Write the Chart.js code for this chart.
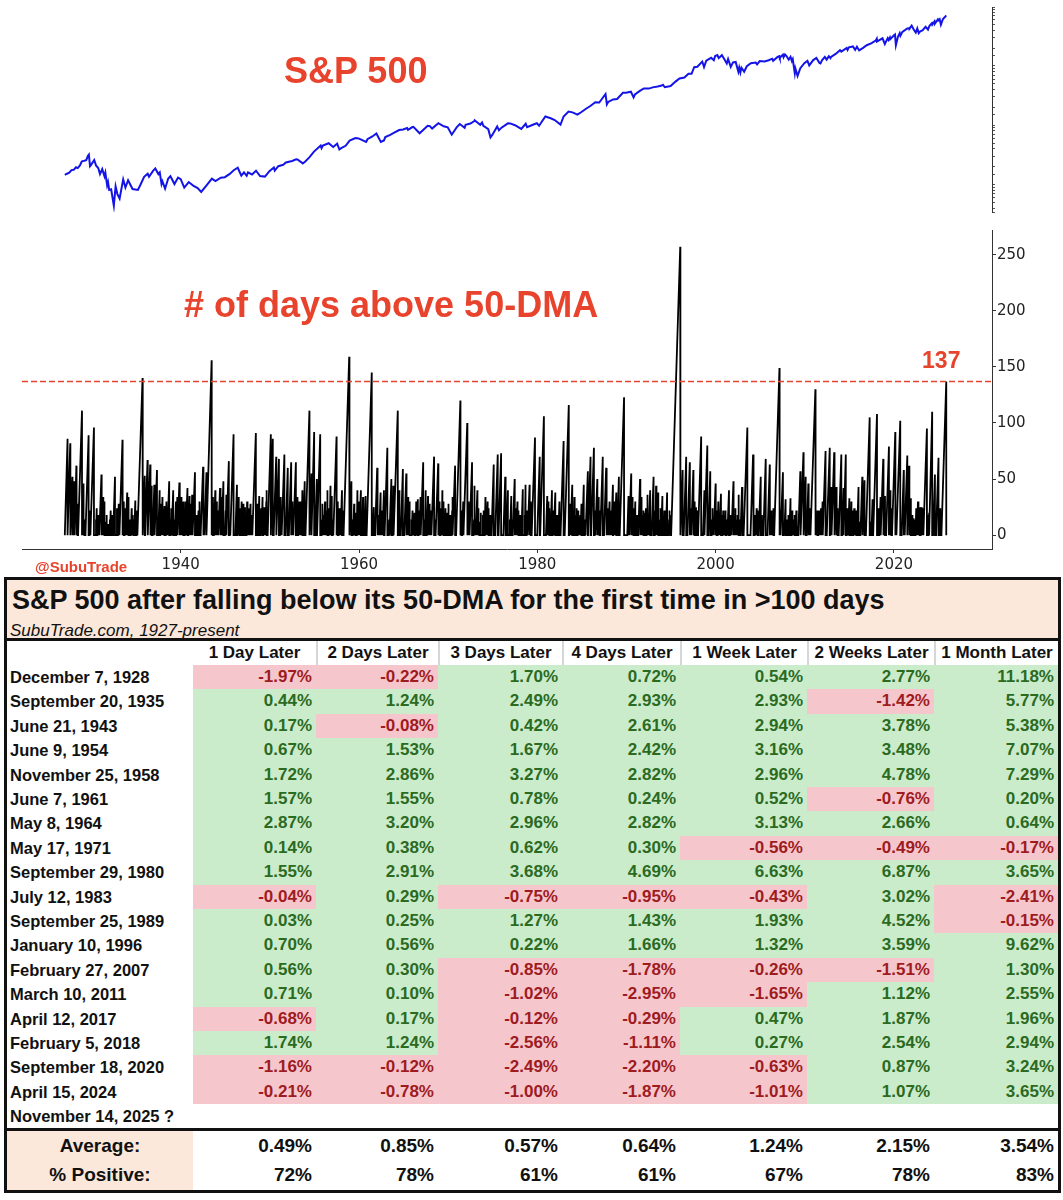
<!DOCTYPE html>
<html><head><meta charset="utf-8">
<script src="https://cdn.jsdelivr.net/npm/chart.js@4.4.1/dist/chart.umd.min.js"></script>
<style>
html,body{margin:0;padding:0;background:#fff;width:1063px;height:1200px;overflow:hidden;font-family:"Liberation Sans",Arial,Helvetica,sans-serif;}
#c1{position:absolute;left:0;top:0;}
#c2{position:absolute;left:0;top:220px;}
.lbl{position:absolute;color:#e8432c;font-weight:bold;white-space:nowrap;line-height:1;}
#tbl{position:absolute;left:4px;top:577px;width:1051px;height:610px;border:3px solid #111;background:#fff;}
#tbl div{position:absolute;white-space:nowrap;box-sizing:border-box;}
</style></head>
<body>
<canvas id="c1" width="1063" height="220" style="width:1063px;height:220px"></canvas>
<canvas id="c2" width="1063" height="358" style="width:1063px;height:358px"></canvas>
<div class="lbl" style="left:284px;top:53px;font-size:36px;">S&amp;P 500</div>
<div class="lbl" style="left:184px;top:287px;font-size:36px;"># of days above 50-DMA</div>
<div class="lbl" style="left:35px;top:559px;font-size:15px;">@SubuTrade</div>
<div id="tbl"></div>
<script>
// ---------------- DATA ----------------
const xTickYears = [1940, 1960, 1980, 2000, 2020];
const latestCount = 137;

// S&P 500 level (year, index)
const spxHistory = [
[1927.0,14.5],[1927.25,15.2],[1927.5,15.8],[1927.75,17.5],[1928.0,17.7],[1928.25,19.5],[1928.45,18.9],[1928.7,21.0],[1928.9,24.4],[1929.0,24.8],
[1929.2,25.2],[1929.4,25.8],[1929.6,30.5],[1929.7,31.9],[1929.83,20.4],[1929.95,21.5],[1930.3,25.9],[1930.5,21.0],[1930.75,19.0],[1930.95,15.0],
[1931.2,18.2],[1931.45,13.8],[1931.55,15.8],[1931.75,9.7],[1931.85,11.0],[1931.98,8.1],[1932.2,8.3],[1932.5,4.4],[1932.7,9.3],[1932.9,6.9],
[1933.15,5.8],[1933.55,12.2],[1933.8,8.9],[1934.1,11.8],[1934.6,8.4],[1935.2,8.1],[1935.5,10.0],[1935.9,13.5],[1936.3,15.2],[1936.45,13.5],
[1936.9,17.0],[1937.15,18.7],[1937.5,15.0],[1937.65,16.0],[1937.85,10.2],[1937.95,11.3],[1938.25,8.5],[1938.6,12.6],[1938.85,13.8],[1939.3,10.2],
[1939.7,13.1],[1940.0,12.3],[1940.4,8.9],[1940.9,11.0],[1941.4,9.6],[1941.9,8.7],[1942.3,7.5],[1942.9,9.7],[1943.5,12.6],[1943.9,11.4],
[1944.5,13.0],[1944.95,13.3],[1945.5,15.1],[1945.95,17.4],[1946.4,19.2],[1946.8,14.1],[1947.1,16.0],[1947.4,14.0],[1947.55,16.0],[1948.0,14.8],
[1948.45,17.1],[1948.9,13.9],[1949.45,13.6],[1949.95,16.8],[1950.45,19.4],[1950.55,17.2],[1950.95,20.4],[1951.5,21.5],[1951.8,23.5],[1952.5,25.0],
[1952.95,26.6],[1953.1,26.5],[1953.7,22.7],[1954.0,24.8],[1954.45,29.0],[1954.95,35.9],[1955.7,45.6],[1955.8,41.0],[1955.95,45.5],[1956.6,49.7],
[1957.1,43.0],[1957.55,49.0],[1957.8,39.0],[1958.0,41.0],[1958.5,45.0],[1958.95,55.2],[1959.6,60.7],[1959.95,59.9],[1960.8,52.3],[1960.95,58.1],
[1961.5,64.6],[1961.95,72.6],[1962.45,52.3],[1962.8,55.5],[1962.95,63.1],[1963.5,69.0],[1963.95,75.0],[1964.5,83.0],[1964.95,84.7],[1965.4,90.0],
[1965.5,84.0],[1965.95,92.4],[1966.1,94.0],[1966.8,73.2],[1967.7,97.6],[1967.95,96.5],[1968.2,87.7],[1968.9,108.4],[1969.5,96.0],[1969.95,92.1],
[1970.4,69.3],[1970.95,92.2],[1971.3,104.8],[1971.85,90.2],[1971.95,102.1],[1972.5,107.0],[1972.95,118.1],[1973.0,120.2],[1973.6,102.0],[1973.8,111.0],
[1973.95,97.6],[1974.5,86.0],[1974.75,62.3],[1974.95,68.6],[1975.5,95.2],[1975.7,82.1],[1975.95,90.2],[1976.7,107.8],[1976.95,107.5],[1977.5,100.0],
[1978.2,86.9],[1978.7,106.0],[1978.85,92.5],[1979.5,102.0],[1979.95,107.9],[1980.2,98.2],[1980.9,140.5],[1981.5,131.0],[1981.95,122.6],[1982.6,102.4],
[1982.95,140.6],[1983.5,170.0],[1983.95,164.9],[1984.5,150.7],[1984.95,167.2],[1985.5,191.9],[1985.95,211.3],[1986.5,245.0],[1986.95,242.2],[1987.65,336.8],
[1987.8,224.8],[1987.95,247.1],[1988.5,272.0],[1988.95,277.7],[1989.6,353.7],[1989.95,353.4],[1990.5,368.0],[1990.8,295.5],[1990.95,330.2],[1991.5,380.0],
[1991.95,417.1],[1992.5,415.0],[1992.95,435.7],[1993.5,450.0],[1993.95,466.5],[1994.1,482.0],[1994.3,438.0],[1994.95,459.3],[1995.5,545.0],[1995.95,615.9],
[1996.5,640.0],[1996.95,740.7],[1997.3,737.0],[1997.6,954.0],[1997.95,970.4],[1998.5,1186.8],[1998.7,957.3],[1998.95,1229.2],[1999.5,1372.7],[1999.8,1247.4],
[1999.95,1469.3],[2000.2,1527.5],[2000.35,1356.0],[2000.7,1520.8],[2000.95,1320.3],[2001.25,1103.3],[2001.4,1312.8],[2001.7,965.8],[2001.95,1148.1],[2002.25,1172.0],
[2002.55,797.7],[2002.65,937.4],[2002.78,776.8],[2002.9,936.3],[2003.2,800.7],[2003.5,987.8],[2003.95,1111.9],[2004.5,1140.8],[2004.65,1063.2],[2004.95,1211.9],
[2005.5,1191.3],[2005.95,1248.3],[2006.35,1325.8],[2006.45,1223.7],[2006.95,1418.3],[2007.15,1459.7],[2007.2,1374.1],[2007.55,1553.1],[2007.62,1406.7],[2007.78,1565.2],
[2007.95,1468.4],[2008.2,1276.6],[2008.4,1426.6],[2008.55,1214.9],[2008.65,1305.0],[2008.88,752.4],[2008.95,903.3],[2009.05,805.2],[2009.19,676.5],[2009.5,919.3],
[2009.95,1115.1],[2010.3,1217.3],[2010.5,1022.6],[2010.95,1257.6],[2011.3,1363.6],[2011.65,1119.5],[2011.76,1099.2],[2011.95,1257.6],[2012.25,1419.0],[2012.45,1278.0],
[2012.7,1465.0],[2012.88,1353.0],[2012.95,1426.2],[2013.5,1614.0],[2013.95,1848.4],[2014.1,1741.9],[2014.7,2011.0],[2014.8,1862.0],[2014.95,2058.9],[2015.4,2130.8],
[2015.65,1867.6],[2015.85,2109.0],[2016.1,1829.1],[2016.5,2000.5],[2016.95,2238.8],[2017.5,2420.0],[2017.95,2673.6],[2018.07,2872.9],[2018.1,2581.0],[2018.72,2930.8],
[2018.98,2351.1],[2019.3,2945.8],[2019.4,2744.5],[2019.55,3025.9],[2019.6,2840.6],[2019.95,3230.8],[2020.12,3386.2],[2020.22,2237.4],[2020.45,3100.0],[2020.65,3580.8],
[2020.73,3236.9],[2020.95,3756.1],[2021.5,4297.5],[2021.7,4307.5],[2021.76,4300.5],[2021.99,4796.6],[2022.2,4170.7],[2022.45,3666.8],[2022.62,4305.2],[2022.78,3577.0],
[2022.95,3839.5],[2023.2,3970.0],[2023.55,4588.9],[2023.82,4117.4],[2023.99,4769.8],[2024.25,5254.4],[2024.3,4967.2],[2024.55,5667.2],[2024.6,5186.3],[2024.93,6090.3],
[2024.99,5881.6],[2025.13,6144.2],[2025.27,4982.8],[2025.5,6205.0],[2025.8,6890.9],[2025.87,6734.0]
];

// Peaks of the "# of days above 50-DMA" counter (year the run ended, days) – the visible spikes
const majorSpikes = [
[1927.31,86],[1927.61,82],[1928.07,48],[1928.30,62],[1928.93,111],[1929.06,46],[1929.67,89],[1930.27,96],[1930.73,18],[1931.11,54],
[1931.87,10],[1932.63,52],[1933.47,85],[1934.0,38],[1934.91,31],[1935.72,140],[1935.97,53],[1936.28,67],[1936.58,63],[1937.04,45],
[1937.34,58],[1937.64,40],[1938.18,26],[1938.71,48],[1939.16,40],[1939.47,30],[1939.85,47],[1940.30,30],[1940.76,42],[1940.99,35],
[1941.60,56],[1941.90,15],[1942.51,61],[1942.89,56],[1943.47,156],[1943.88,40],[1944.41,42],[1944.79,48],[1945.40,66],[1945.93,90],
[1946.31,45],[1946.84,30],[1947.22,25],[1947.83,28],[1948.43,91],[1948.81,35],[1949.35,25],[1950.11,90],[1950.33,86],[1950.71,70],
[1951.02,68],[1951.63,72],[1952.01,60],[1952.39,65],[1952.92,65],[1953.30,30],[1953.91,48],[1954.44,111],[1954.67,55],[1954.97,92],
[1955.27,50],[1955.65,90],[1956.19,30],[1956.95,35],[1957.48,88],[1958.09,40],[1958.90,159],[1959.15,48],[1959.60,20],[1960.21,40],
[1960.74,35],[1961.43,145],[1961.66,25],[1962.04,60],[1962.42,38],[1962.80,40],[1963.18,78],[1963.63,50],[1964.35,111],[1964.54,40],
[1964.92,59],[1965.30,55],[1965.68,30],[1966.22,20],[1966.60,32],[1967.20,65],[1967.74,35],[1968.42,70],[1968.88,64],[1969.48,30],
[1969.86,20],[1970.78,62],[1971.37,120],[1971.69,30],[1972.14,100],[1972.68,65],[1973.28,40],[1973.66,20],[1974.42,30],[1975.11,63],
[1975.56,72],[1975.94,73],[1976.40,52],[1976.70,40],[1977.08,35],[1977.46,50],[1977.77,30],[1978.37,41],[1979.13,45],[1979.74,87],
[1980.27,70],[1980.74,106],[1981.11,35],[1981.64,40],[1982.02,38],[1982.48,30],[1982.95,84],[1983.53,116],[1983.92,45],[1984.68,15],
[1985.21,45],[1985.67,57],[1985.97,70],[1986.35,78],[1986.73,50],[1987.34,70],[1987.72,60],[1988.10,30],[1988.48,45],[1988.86,38],
[1989.15,52],[1989.73,123],[1990.23,35],[1990.53,55],[1990.99,30],[1991.52,50],[1992.05,20],[1992.66,40],[1993.04,52],[1993.57,38],
[1994.03,35],[1994.56,38],[1996.03,257],[1996.30,58],[1996.70,70],[1997.10,65],[1997.50,58],[1997.80,25],[1998.38,88],[1998.74,40],
[1999.07,80],[1999.40,57],[2000.0,46],[2000.6,37],[2001.5,40],[2002.0,48],[2002.96,43],[2003.56,96],[2004.2,72],[2005.06,52],
[2005.62,68],[2006.07,63],[2007.16,149],[2007.55,56],[2007.85,32],[2008.4,33],[2009.5,57],[2009.85,74],[2010.1,52],[2010.4,46],
[2011.19,130],[2011.6,22],[2012.0,30],[2012.33,75],[2012.8,78],[2013.0,43],[2013.3,74],[2013.55,43],[2014.1,72],[2014.35,42],
[2014.6,72],[2015.0,33],[2015.4,22],[2016.03,43],[2016.45,52],[2016.7,49],[2017.28,105],[2017.6,32],[2018.10,108],[2018.5,34],
[2018.8,68],[2019.0,35],[2019.44,79],[2019.6,40],[2020.15,92],[2020.71,102],[2021.1,58],[2021.5,71],[2021.7,62],[2021.9,33],
[2022.2,15],[2022.7,30],[2022.9,25],[2023.1,25],[2023.7,95],[2023.95,20],[2024.29,110],[2024.6,54],[2025.0,69],[2025.2,24],
[2025.87,137]
];

// Short runs that make the dense band near zero
const minorSpikes = [
[1927.02,20],[1927.10,34],[1927.68,24],[1927.75,40],[1927.85,52],[1927.93,16],[1928.45,28],[1928.52,44],[1928.58,18],
[1929.12,36],[1929.2,14],[1929.85,22],[1929.92,12],[1929.98,26],[1930.35,18],[1930.42,38],[1930.5,14],[1930.58,24],[1930.65,44],[1930.85,18],[1930.92,10],
[1931.2,22],[1931.3,34],[1931.4,14],[1931.5,30],[1931.6,12],[1931.7,18],[1931.95,26],[1932.05,14],[1932.15,22],[1932.25,12],[1932.35,18],[1932.42,10],
[1932.75,36],[1932.85,24],[1932.95,14],[1933.05,28],[1933.12,12],[1933.55,18],[1933.62,30],[1933.7,14],[1933.78,24],[1933.86,12],
[1934.1,22],[1934.2,34],[1934.3,14],[1934.4,12],[1934.5,24],[1934.6,18],[1934.7,14],[1934.78,30],[1935.05,14],[1935.12,22],[1935.2,12],
[1936.65,30],[1936.72,18],[1936.78,44],[1937.1,22],[1937.45,36],[1937.52,14],[1937.72,18],[1937.8,28],[1937.88,12],[1937.95,34],
[1938.02,14],[1938.08,24],[1938.25,18],[1938.32,12],[1938.4,30],[1938.48,22],[1938.8,34],[1938.88,14],[1938.95,24],
[1939.03,12],[1939.25,22],[1939.32,14],[1939.55,28],[1939.62,34],[1939.7,18],[1939.92,14],
[1940.0,24],[1940.08,34],[1940.15,12],[1940.38,22],[1940.45,14],[1940.52,30],[1940.6,18],[1940.68,12],[1940.85,22],[1940.92,10],
[1941.05,18],[1941.12,28],[1941.2,14],[1941.28,36],[1941.35,12],[1941.42,22],[1941.7,14],[1941.78,18],[1941.95,12],
[1942.0,22],[1942.07,14],[1942.15,30],[1942.22,12],[1942.28,18],[1942.58,14],[1942.65,24],
[1943.55,22],[1943.62,34],[1943.7,14],[1943.78,24],[1943.95,18],[1944.05,30],[1944.12,14],[1944.2,22],[1944.5,18],[1944.58,34],[1944.65,12],
[1945.05,22],[1945.12,36],[1945.2,14],[1945.5,24],[1945.55,12],[1946.4,22],[1946.5,34],[1946.58,14],[1946.65,24],[1946.72,12],[1946.92,18],
[1947.0,28],[1947.08,14],[1947.3,22],[1947.38,12],[1947.45,30],[1947.52,18],[1947.6,14],[1947.68,24],[1947.92,18],
[1948.0,12],[1948.08,22],[1948.15,34],[1948.55,18],[1948.62,28],[1948.7,14],[1948.88,22],[1948.95,12],
[1949.02,24],[1949.1,14],[1949.18,34],[1949.42,22],[1949.5,12],[1949.6,30],[1949.68,40],[1950.4,30],[1950.48,14],
[1951.12,18],[1951.2,34],[1951.3,14],[1951.38,24],[1951.7,30],[1951.78,14],[1952.1,22],[1952.15,40],[1952.45,18],[1952.52,30],[1952.6,14],
[1953.0,22],[1953.08,34],[1953.12,14],[1953.35,24],[1953.42,12],[1953.5,30],[1953.58,18],[1953.65,40],[1953.72,14],
[1955.3,14],[1955.7,22],[1955.78,34],[1955.85,14],[1955.92,28],
[1956.0,18],[1956.25,30],[1956.32,14],[1956.42,22],[1956.5,40],[1956.58,14],[1956.65,24],[1956.72,12],[1956.8,44],
[1957.02,22],[1957.1,14],[1957.18,34],[1957.55,18],[1957.62,30],[1957.7,14],[1957.78,24],[1957.85,12],[1957.92,18],[1958.15,12],[1958.2,22],
[1959.2,18],[1959.28,36],[1959.35,14],[1959.45,28],[1959.5,18],[1959.68,24],[1959.75,14],[1959.82,40],[1959.9,18],
[1960.0,30],[1960.05,12],[1960.28,22],[1960.35,14],[1960.45,34],[1960.52,18],[1960.6,24],[1960.8,14],[1960.88,22],[1960.95,12],
[1961.0,18],[1961.72,22],[1961.8,34],[1961.88,14],[1962.1,24],[1962.18,14],[1962.25,18],[1962.48,12],[1962.55,22],[1962.62,14],[1962.85,30],[1962.92,14],
[1963.25,22],[1963.32,36],[1963.4,14],[1963.7,24],[1963.78,12],[1963.85,44],[1963.92,18],[1964.6,22],[1964.68,34],
[1965.0,22],[1965.08,44],[1965.35,24],[1965.42,14],[1965.5,34],[1965.58,12],[1965.75,22],[1965.82,40],[1965.9,14],
[1966.0,22],[1966.08,18],[1966.28,24],[1966.35,14],[1966.42,30],[1966.68,14],[1966.75,22],[1966.82,12],[1966.9,34],
[1967.0,24],[1967.25,18],[1967.32,30],[1967.4,14],[1967.48,40],[1967.8,18],[1967.88,28],[1967.95,14],
[1968.02,22],[1968.1,12],[1968.18,18],[1968.5,24],[1968.58,14],[1968.62,34],
[1969.0,18],[1969.08,30],[1969.15,12],[1969.22,24],[1969.3,14],[1969.35,40],[1969.55,18],[1969.62,12],[1969.7,24],[1969.78,14],[1969.92,22],
[1970.0,14],[1970.08,28],[1970.15,12],[1970.22,18],[1970.3,10],[1970.38,14],[1970.45,22],[1970.52,34],
[1971.45,14],[1971.52,22],[1971.78,18],[1971.85,12],[1972.22,18],[1972.3,30],[1972.38,14],[1972.75,22],[1972.82,34],[1972.9,14],[1972.98,44],
[1973.05,14],[1973.12,22],[1973.35,14],[1973.42,24],[1973.5,12],[1973.58,18],[1973.72,14],[1973.8,44],[1973.88,18],[1973.95,12],
[1974.02,22],[1974.1,14],[1974.18,34],[1974.25,12],[1974.32,18],[1974.5,14],[1974.58,24],[1974.65,12],[1974.72,18],[1974.8,10],[1974.88,22],[1974.95,14],
[1975.62,14],[1975.7,24],[1976.0,18],[1976.08,34],[1976.48,14],[1976.55,24],[1976.62,12],[1976.78,18],[1976.85,40],[1976.92,14],
[1977.15,22],[1977.22,14],[1977.3,30],[1977.35,12],[1977.55,18],[1977.62,24],[1977.85,14],[1977.92,22],
[1978.0,12],[1978.08,18],[1978.15,14],[1978.22,10],[1978.45,22],[1978.52,44],[1978.6,18],[1978.68,45],[1978.8,14],[1978.88,22],[1978.95,12],
[1979.2,18],[1979.28,30],[1979.35,14],[1979.42,24],
[1981.18,18],[1981.25,30],[1981.32,14],[1981.38,24],[1981.7,18],[1981.78,12],[1981.85,22],[1981.92,14],
[1982.1,24],[1982.15,12],[1982.22,18],[1982.3,14],[1982.55,22],[1982.6,12],[1983.6,18],[1983.68,28],[1983.75,14],
[1984.0,22],[1984.08,14],[1984.15,34],[1984.22,12],[1984.3,18],[1984.38,14],[1984.45,24],[1984.52,12],[1984.58,22],[1984.75,34],[1984.82,18],[1984.88,14],[1984.95,28],
[1985.3,22],[1985.38,14],[1985.75,18],[1986.42,14],[1986.48,22],[1986.8,18],[1986.88,34],[1986.95,14],
[1987.02,22],[1987.4,14],[1987.8,12],[1987.85,18],[1987.9,10],[1987.95,24],[1988.15,14],[1988.22,22],[1988.28,12],[1988.55,18],[1988.62,30],[1988.7,14],
[1990.3,14],[1990.38,22],[1990.6,18],[1990.68,34],[1990.75,14],[1990.82,24],[1990.88,12],[1990.95,18],
[1991.05,14],[1991.12,40],[1991.2,18],[1991.28,12],[1991.58,24],[1991.65,14],[1991.72,34],[1991.8,18],[1991.88,12],[1991.95,22],
[1992.1,14],[1992.18,24],[1992.25,12],[1992.32,18],[1992.38,36],[1992.45,14],[1992.72,22],[1992.8,12],[1992.88,40],[1992.95,18],
[1993.1,24],[1993.18,14],[1993.25,22],[1993.32,44],[1993.38,14],[1993.62,18],[1993.7,34],[1993.78,14],[1993.85,24],[1993.92,12],
[1994.1,18],[1994.18,12],[1994.25,22],[1994.32,14],[1994.4,24],[1994.62,18],[1994.7,40],[1994.78,14],[1994.85,22],[1994.92,12],[1994.97,18],
[1996.1,18],[1996.15,12],[1996.38,22],[1996.45,14],[1996.5,34],[1997.18,14],[1997.25,24],[1997.58,18],[1997.65,30],[1997.72,12],
[1998.0,22],[1998.05,44],[1998.45,18],[1998.52,34],[1998.6,14],[1998.78,12],[1998.82,18],
[1999.45,22],[1999.52,34],[1999.6,14],[1999.68,24],[1999.75,12],[1999.82,36],[1999.9,18],
[2000.08,14],[2000.15,22],[2000.22,12],[2000.3,30],[2000.38,14],[2000.45,24],[2000.7,18],[2000.78,12],[2000.85,22],[2000.92,10],
[2001.0,18],[2001.08,12],[2001.15,22],[2001.22,14],[2001.3,10],[2001.38,24],[2001.6,14],[2001.68,18],[2001.75,12],[2001.82,34],[2001.9,14],
[2002.1,18],[2002.18,12],[2002.25,24],[2002.32,14],[2002.4,10],[2002.48,18],[2002.55,12],[2002.62,36],[2002.7,14],[2002.78,22],[2002.85,12],
[2003.05,18],[2003.12,12],[2003.2,14],[2004.3,22],[2004.38,12],[2004.45,18],[2004.52,14],[2004.6,24],[2004.68,12],[2004.75,22],[2004.82,14],
[2005.2,18],[2005.28,12],[2005.35,24],[2006.15,14],[2006.22,22],[2006.3,12],[2006.38,18],[2006.45,14],[2006.52,24],[2006.58,12],
[2007.25,14],[2007.3,22],[2007.62,18],[2007.68,12],[2007.92,18],[2007.98,10],
[2008.05,14],[2008.12,12],[2008.2,18],[2008.45,14],[2008.52,10],[2008.6,22],[2008.68,12],[2008.75,14],[2008.82,8],[2008.9,18],[2008.97,12],
[2009.05,22],[2009.12,12],[2009.2,8],[2009.28,14],[2010.45,18],[2010.52,12],[2010.6,24],[2010.68,14],[2010.75,34],
[2011.3,18],[2011.38,12],[2011.45,22],[2011.52,14],[2011.68,18],[2011.75,12],[2011.82,24],[2011.9,14],
[2012.45,14],[2012.52,22],[2012.58,12],[2013.45,18],[2013.65,14],[2013.72,24],[2013.8,12],
[2014.2,22],[2014.25,12],[2014.42,18],[2014.7,14],[2014.78,24],[2014.85,12],
[2015.08,22],[2015.15,14],[2015.22,30],[2015.3,12],[2015.48,18],[2015.55,24],[2015.62,12],[2015.68,18],[2015.75,10],[2015.82,22],[2015.88,14],
[2016.1,18],[2016.15,12],[2016.55,14],[2016.78,22],[2016.85,12],[2017.35,18],[2017.42,12],[2017.48,24],
[2018.2,18],[2018.25,12],[2018.32,24],[2018.4,14],[2018.85,18],[2018.92,12],[2018.97,14],
[2019.05,22],[2019.5,18],[2019.68,14],[2019.75,24],[2020.2,12],[2020.25,18],[2021.2,18],[2021.75,14],[2021.95,12],
[2022.05,18],[2022.1,12],[2022.28,22],[2022.35,14],[2022.42,10],[2022.5,24],[2022.75,14],[2022.82,18],
[2023.15,22],[2023.2,14],[2023.28,24],[2023.35,12],[2023.75,14],[2023.8,18],[2024.35,14],[2024.4,22],[2024.65,12],[2024.7,18],
[2025.25,14],[2025.3,24],[2025.35,12]
];

// Table
const tableTitle = "S&P 500 after falling below its 50-DMA for the first time in >100 days";
const tableSubtitle = "SubuTrade.com, 1927-present";
const horizons = ["1 Day Later","2 Days Later","3 Days Later","4 Days Later","1 Week Later","2 Weeks Later","1 Month Later"];
const eventDates = ["December 7, 1928","September 20, 1935","June 21, 1943","June 9, 1954","November 25, 1958","June 7, 1961","May 8, 1964",
"May 17, 1971","September 29, 1980","July 12, 1983","September 25, 1989","January 10, 1996","February 27, 2007","March 10, 2011",
"April 12, 2017","February 5, 2018","September 18, 2020","April 15, 2024","November 14, 2025 ?"];
const eventReturns = [
[-1.97,-0.22,1.70,0.72,0.54,2.77,11.18],
[0.44,1.24,2.49,2.93,2.93,-1.42,5.77],
[0.17,-0.08,0.42,2.61,2.94,3.78,5.38],
[0.67,1.53,1.67,2.42,3.16,3.48,7.07],
[1.72,2.86,3.27,2.82,2.96,4.78,7.29],
[1.57,1.55,0.78,0.24,0.52,-0.76,0.20],
[2.87,3.20,2.96,2.82,3.13,2.66,0.64],
[0.14,0.38,0.62,0.30,-0.56,-0.49,-0.17],
[1.55,2.91,3.68,4.69,6.63,6.87,3.65],
[-0.04,0.29,-0.75,-0.95,-0.43,3.02,-2.41],
[0.03,0.25,1.27,1.43,1.93,4.52,-0.15],
[0.70,0.56,0.22,1.66,1.32,3.59,9.62],
[0.56,0.30,-0.85,-1.78,-0.26,-1.51,1.30],
[0.71,0.10,-1.02,-2.95,-1.65,1.12,2.55],
[-0.68,0.17,-0.12,-0.29,0.47,1.87,1.96],
[1.74,1.24,-2.56,-1.11,0.27,2.54,2.94],
[-1.16,-0.12,-2.49,-2.20,-0.63,0.87,3.24],
[-0.21,-0.78,-1.00,-1.87,-1.01,1.07,3.65]
];
const averageReturns = [0.49,0.85,0.57,0.64,1.24,2.15,3.54];
const percentPositive = [72,78,61,61,67,78,83];

// ---------------- CHARTS ----------------
const RED = '#e8432c';
const X_MIN = 1922.2, X_MAX = 2031.0;
const TRADING_DAYS = 252;

// build the counter line: each run climbs from 0 to its peak, then resets to 0
const majorWindows = majorSpikes.map(([e,p]) => [e - p/TRADING_DAYS, e]);
const keptMinor = minorSpikes.filter(([e,p]) => {
  const s = e - p/TRADING_DAYS;
  return !majorWindows.some(([ms,me]) => s < me + 0.01 && e > ms - 0.01);
});
const allSpikes = majorSpikes.concat(keptMinor).sort((a,b)=>a[0]-b[0]);
const daysPoints = [{x:1927.0,y:0}];
let prevEnd = 1927.0;
for (const [e,p] of allSpikes) {
  let s = Math.max(e - p/TRADING_DAYS, prevEnd);
  daysPoints.push({x:s,y:0},{x:e,y:p},{x:e,y:0});
  prevEnd = e;
}

const tickFont = {family:'"DejaVu Sans", sans-serif', size:15};

new Chart(document.getElementById('c1'), {
  type:'line',
  data:{datasets:[{data:spxHistory.map(([x,y])=>({x,y})), borderColor:'#1414e6', borderWidth:2, pointRadius:0, tension:0}]},
  options:{
    responsive:false, animation:false, events:[],
    layout:{padding:{left:22,top:3,right:0,bottom:8}},
    plugins:{legend:{display:false}, tooltip:{enabled:false}},
    scales:{
      x:{type:'linear', min:X_MIN, max:X_MAX, display:false},
      y:{type:'logarithmic', position:'right', min:3.44, max:9800,
         afterFit:s=>{s.width=71;},
         border:{display:true,color:'#333',width:1},
         grid:{drawOnChartArea:false, drawTicks:true, tickLength:3, color:'#555'},
         ticks:{autoSkip:false, callback:()=> '', padding:0}}
    }
  }
});

new Chart(document.getElementById('c2'), {
  type:'line',
  data:{datasets:[
    {data:daysPoints, borderColor:'#000', borderWidth:1.8, pointRadius:0, tension:0, order:2},
    {data:[{x:X_MIN,y:latestCount},{x:X_MAX,y:latestCount}], borderColor:RED, borderDash:[6,3], borderWidth:1.6, pointRadius:0, order:1}
  ]},
  options:{
    responsive:false, animation:false, events:[], normalized:true,
    layout:{padding:{left:22,top:6,right:0,bottom:0}},
    plugins:{legend:{display:false}, tooltip:{enabled:false}},
    scales:{
      x:{type:'linear', min:X_MIN, max:X_MAX,
         afterFit:s=>{s.height=29;},
         afterBuildTicks:s=>{s.ticks = xTickYears.map(v=>({value:v}));},
         border:{display:true,color:'#333',width:1},
         grid:{drawOnChartArea:false, drawTicks:true, tickLength:4, color:'#333'},
         ticks:{font:tickFont, color:'#222', padding:3, maxRotation:0, autoSkip:false, callback:v=>String(v)}},
      y:{type:'linear', position:'right', min:-12.3, max:272,
         afterFit:s=>{s.width=71;},
         afterBuildTicks:s=>{s.ticks = s.ticks.filter(t=>t.value%50===0);},
         border:{display:true,color:'#333',width:1},
         grid:{drawOnChartArea:false, drawTicks:true, tickLength:4, color:'#333'},
         ticks:{stepSize:50, includeBounds:false, font:tickFont, color:'#222', padding:1}}
    }
  },
  plugins:[{id:'latestLabel', afterDatasetsDraw(chart){
    const {ctx, scales:{x,y}} = chart;
    const last = majorSpikes[majorSpikes.length-1];
    const px = x.getPixelForValue(last[0]), py = y.getPixelForValue(latestCount);
    ctx.save();
    ctx.font = 'bold 23px "Liberation Sans", Arial, sans-serif';
    ctx.fillStyle = RED; ctx.textAlign='center'; ctx.textBaseline='alphabetic';
    ctx.fillText(String(latestCount), px-5, py-13);
    ctx.restore();
  }}]
});

// ---------------- TABLE ----------------
const T = document.getElementById('tbl');
const PEACH = '#fbe8da', POS_BG = '#caeccb', POS_TX = '#2b6a1f', NEG_BG = '#f5c7cc', NEG_TX = '#9e1b1f';
const colEdges = [186,309,431,555,673,800,927,1051];
function box(x,y,w,h,css,text){
  const d = document.createElement('div');
  d.style.cssText = `left:${x}px;top:${y}px;width:${w}px;height:${h}px;line-height:${h}px;`+(css||'');
  if (text!==undefined) d.textContent = text;
  T.appendChild(d); return d;
}
box(0,0,1051,58,'background:'+PEACH+';');
box(5,7,1040,27,'font-size:27px;line-height:27px;font-weight:bold;color:#111;', tableTitle);
box(3,42,600,17,'font-size:17px;line-height:17px;font-style:italic;color:#111;', tableSubtitle);
box(0,58,1051,3,'background:#111;');
horizons.forEach((h,i)=>{
  box(colEdges[i],61,colEdges[i+1]-colEdges[i],24,
    'text-align:center;font-size:17px;font-weight:bold;color:#111;'+(i>0?'border-left:2px solid #d6d6d6;':''), h);
});
const ROW_H = 24.4, ROW0 = 85;
eventDates.forEach((d,r)=>{
  const y = ROW0 + r*ROW_H;
  box(3,y,183,ROW_H,'font-size:16.5px;font-weight:bold;color:#111;', d);
  const vals = eventReturns[r];
  if (!vals) return;
  vals.forEach((v,i)=>{
    const neg = v < 0;
    box(colEdges[i],y,colEdges[i+1]-colEdges[i],ROW_H,
      `text-align:right;padding-right:4px;font-size:17px;font-weight:bold;background:${neg?NEG_BG:POS_BG};color:${neg?NEG_TX:POS_TX};`,
      v.toFixed(2)+'%');
  });
});
box(0,548,1051,3,'background:#111;');
[['Average:',averageReturns.map(v=>v.toFixed(2)+'%'),551,29],['% Positive:',percentPositive.map(v=>v+'%'),580,30]].forEach(([lab,vals,y,h])=>{
  box(0,y,186,h,'background:'+PEACH+';text-align:center;font-size:19px;font-weight:bold;color:#111;', lab);
  vals.forEach((t,i)=>{
    box(colEdges[i],y,colEdges[i+1]-colEdges[i],h,'text-align:right;padding-right:4px;font-size:19px;font-weight:bold;color:#111;', t);
  });
});
</script>
</body></html>
